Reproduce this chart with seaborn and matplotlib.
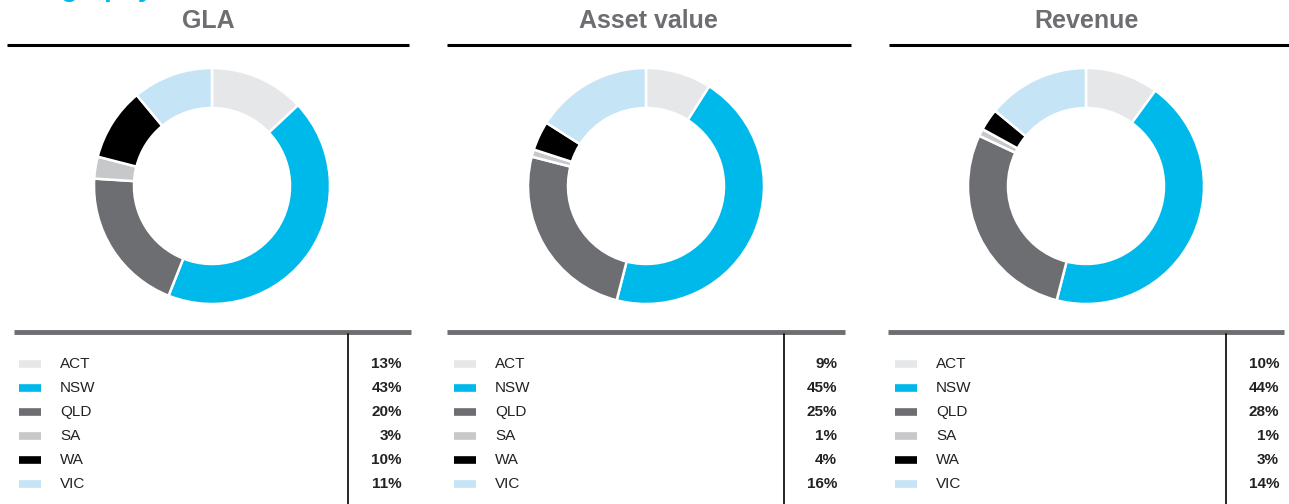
import matplotlib
matplotlib.use("Agg")
import matplotlib.pyplot as plt
import seaborn as sns

# dados
regioes = ["ACT", "NSW", "QLD", "SA", "WA", "VIC"]
cores = ["#e6e7e8", "#00b9eb", "#6d6e71", "#c7c8ca", "#000000", "#c5e4f6"]
titulos = ["GLA", "Asset value", "Revenue"]
gla = [13, 43, 20, 3, 10, 11]
asset_value = [9, 45, 25, 1, 4, 16]
revenue = [10, 44, 28, 1, 3, 14]
series = [gla, asset_value, revenue]

sns.set_theme(style="white")
plt.rcParams['font.family'] = ['Liberation Sans', 'DejaVu Sans']

W, H = 1289, 504
fig = plt.figure(figsize=(W / 100, H / 100), dpi=100)

# camada de fundo em pixels para linhas e textos
base = fig.add_axes([0, 0, 1, 1])
base.set_xlim(0, W)
base.set_ylim(H, 0)
base.axis("off")

# titulo da pagina, cortado no topo como no original
base.text(8, -4, "Geography", ha="left", va="baseline", fontsize=20,
          fontweight="bold", color="#00b9eb")

# posicoes de cada painel (pixels)
paineis = [
    dict(cx=212, tx=208, top=(7, 409), grey=(14, 411), vline=348, sw=19, lab=60, pct=402),
    dict(cx=646, tx=648, top=(447, 851), grey=(447, 845), vline=784, sw=454, lab=495, pct=837),
    dict(cx=1086, tx=1087, top=(889, 1290), grey=(888, 1284), vline=1226, sw=895, lab=936, pct=1279),
]
r_ext = 118
cy = 186
linhas_y = [364, 388, 412, 436, 460, 484]

for p, titulo, valores in zip(paineis, titulos, series):
    # titulo e linha
    base.text(p["tx"], 21, titulo, ha="center", va="center", fontsize=18,
              fontweight="bold", color="#6d6e71")
    base.plot(p["top"], [45, 45], color="black", lw=2.2, solid_capstyle="butt")

    # donut
    ax = fig.add_axes([(p["cx"] - r_ext) / W, (H - cy - r_ext) / H,
                       2 * r_ext / W, 2 * r_ext / H])
    ax.pie(valores, colors=cores, startangle=90, counterclock=False, radius=1,
           wedgeprops=dict(width=40 / r_ext, edgecolor="white", linewidth=1.8))
    ax.set_xlim(-1.0, 1.0)
    ax.set_ylim(-1.0, 1.0)
    ax.set_aspect("equal")
    ax.axis("off")

    # tabela de legenda
    base.plot(p["grey"], [332, 332], color="#6d6e71", lw=3.5, solid_capstyle="butt")
    base.plot([p["vline"], p["vline"]], [334, H], color="black", lw=1.2)
    for y, reg, cor, v in zip(linhas_y, regioes, cores, valores):
        base.plot([p["sw"], p["sw"] + 22], [y, y], color=cor, lw=5.5, solid_capstyle="butt")
        base.text(p["lab"], y, reg, ha="left", va="center", fontsize=11, color="#222222")
        base.text(p["pct"], y, f"{v}%", ha="right", va="center", fontsize=11,
                  fontweight="bold", color="#222222")

fig.savefig("out.png", dpi=100)
